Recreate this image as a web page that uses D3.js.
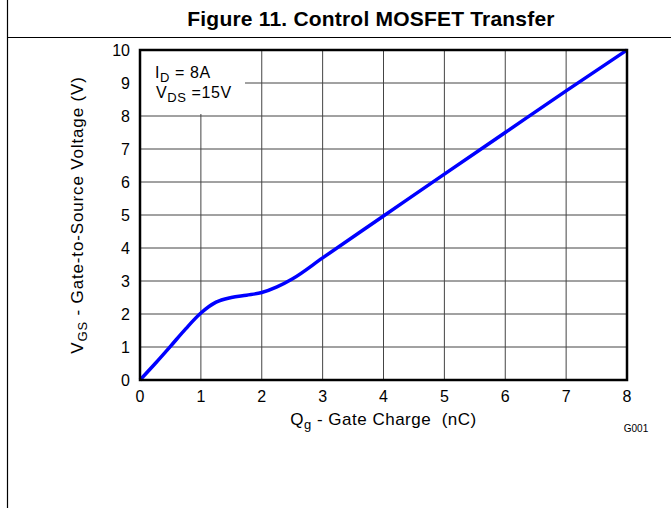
<!DOCTYPE html>
<html lang="en">
  <head>
    <meta charset="utf-8">
    <title>Figure 11. Control MOSFET Transfer</title>
    <script src="https://cdn.jsdelivr.net/npm/d3@7"></script>
    <style>
      body, html { margin: 0; padding: 0; background: #fff; }
      svg { display: block; font-family: "Liberation Sans", Arial, sans-serif; }
    </style>
  </head>
  <body>
    <svg width="671" height="508"></svg>
    <script>
      // curve
      const qg  = [0, 0.25, 0.5, 0.75, 1, 1.25, 1.5, 1.75, 2, 2.25, 2.5, 3, 4, 5, 6, 7, 8]
      const vgs = [0, 0.5, 1.02, 1.55, 2.03, 2.36, 2.5, 2.57, 2.65, 2.82, 3.06, 3.7, 4.97, 6.24, 7.5, 8.76, 10]
      const xTicks = [0, 1, 2, 3, 4, 5, 6, 7, 8]
      const yTicks = [0, 1, 2, 3, 4, 5, 6, 7, 8, 9, 10]

      const svg = d3.select('svg')
      const plotL = 140, plotR = 627, plotT = 50, plotB = 380

      const x = d3.scaleLinear().domain([0, 8]).range([plotL, plotR])
      const y = d3.scaleLinear().domain([0, 10]).range([plotB, plotT])

      // outer frame
      svg.append('line').attr('x1', 7.5).attr('x2', 7.5).attr('y1', 0).attr('y2', 508)
        .attr('stroke', '#000').attr('stroke-width', 1.2)
      svg.append('line').attr('x1', 7).attr('x2', 671).attr('y1', 37.5).attr('y2', 37.5)
        .attr('stroke', '#000').attr('stroke-width', 1.2)

      svg.append('text')
        .attr('x', 371).attr('y', 26)
        .attr('text-anchor', 'middle')
        .attr('font-size', '21px').attr('font-weight', 'bold')
        .attr('letter-spacing', 0.2)
        .text('Figure 11. Control MOSFET Transfer')

      // grid
      const grid = svg.append('g')
      grid.selectAll('.vg').data(xTicks.slice(1, -1)).enter().append('line')
        .attr('x1', d => x(d)).attr('x2', d => x(d))
        .attr('y1', plotT).attr('y2', plotB)
        .attr('stroke', '#444').attr('stroke-width', 1)
      grid.selectAll('.hg').data(yTicks.slice(1, -1)).enter().append('line')
        .attr('x1', plotL).attr('x2', plotR)
        .attr('y1', d => y(d)).attr('y2', d => y(d))
        .attr('stroke', '#444').attr('stroke-width', 1)

      // legend box hides the grid under it
      svg.append('rect').attr('x', plotL).attr('y', plotT).attr('width', 105).attr('height', 64)
        .attr('fill', '#fff')

      const leg = svg.append('g').attr('font-size', '16px').attr('letter-spacing', 0.6)
      const t1 = leg.append('text').attr('x', 155).attr('y', 78)
      t1.append('tspan').text('I')
      t1.append('tspan').attr('font-size', '13px').attr('dy', 4).text('D')
      t1.append('tspan').attr('dy', -4).text(' = 8A')
      const t2 = leg.append('text').attr('x', 156).attr('y', 98)
      t2.append('tspan').text('V')
      t2.append('tspan').attr('font-size', '13px').attr('dy', 4).text('DS')
      t2.append('tspan').attr('dy', -4).text(' =15V')

      // curve
      const line = d3.line().x((d, i) => x(qg[i])).y(d => y(d)).curve(d3.curveMonotoneX)
      svg.append('path').datum(vgs)
        .attr('d', line)
        .attr('fill', 'none')
        .attr('stroke', '#0000ff')
        .attr('stroke-width', 3.5)

      // plot frame
      svg.append('rect').attr('x', plotL).attr('y', plotT)
        .attr('width', plotR - plotL).attr('height', plotB - plotT)
        .attr('fill', 'none').attr('stroke', '#000').attr('stroke-width', 2.5)

      // tick labels
      svg.append('g').selectAll('text').data(xTicks).enter().append('text')
        .attr('x', d => x(d)).attr('y', 402)
        .attr('text-anchor', 'middle').attr('font-size', '16px')
        .text(d => d)
      svg.append('g').selectAll('text').data(yTicks).enter().append('text')
        .attr('x', 130).attr('y', d => y(d) + 6)
        .attr('text-anchor', 'end').attr('font-size', '16px')
        .text(d => d)

      // axis titles
      const xl = svg.append('text').attr('x', (plotL + plotR) / 2).attr('y', 425)
        .attr('text-anchor', 'middle').attr('font-size', '17px').attr('letter-spacing', 0.5)
      xl.append('tspan').text('Q')
      xl.append('tspan').attr('font-size', '13px').attr('dy', 4).text('g')
      xl.append('tspan').attr('dy', -4).text(' - Gate Charge\u00a0 (nC)')

      const yl = svg.append('text')
        .attr('transform', 'translate(83,' + ((plotT + plotB) / 2) + ') rotate(-90)')
        .attr('text-anchor', 'middle').attr('font-size', '17px').attr('letter-spacing', 0.85)
      yl.append('tspan').text('V')
      yl.append('tspan').attr('font-size', '13px').attr('dy', 4).text('GS')
      yl.append('tspan').attr('dy', -4).text(' - Gate-to-Source Voltage (V)')

      svg.append('text').attr('x', 636).attr('y', 432)
        .attr('text-anchor', 'middle').attr('font-size', '10px')
        .text('G001')
    </script>
  </body>
</html>
